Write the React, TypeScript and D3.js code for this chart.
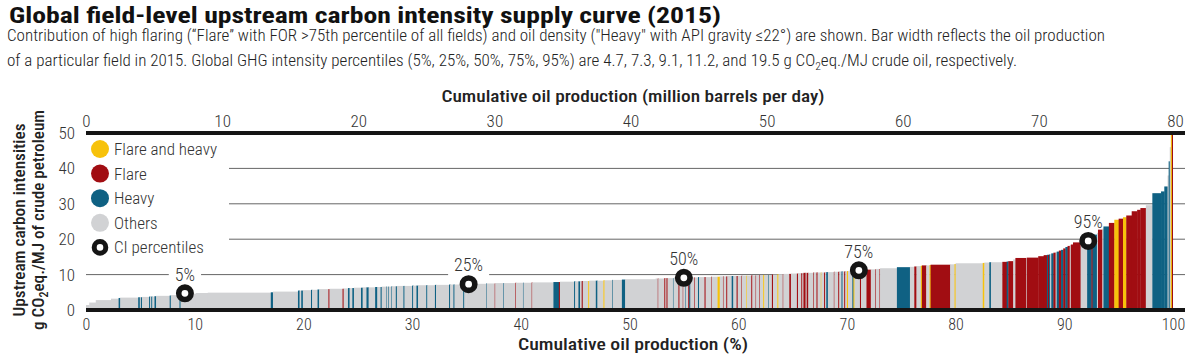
import React, { useEffect, useRef } from "react";
import * as d3 from "d3";

// [share of global production (%), upstream CI (g CO2eq./MJ), type]
// types: B = flare and heavy, F = flare, H = heavy, O = others
type Field = [number, number, string];

const fieldsLow: Field[] = [
  [0.3, 1.4, "O"], [0.6, 2.1, "O"], [1.4, 2.8, "O"], [0.7, 3.2, "O"], [0.15, 3.4, "H"],
  [1.65, 3.5, "O"], [0.15, 3.6, "H"], [0.1, 3.6, "O"], [0.1, 3.6, "H"], [0.65, 3.7, "O"],
  [0.1, 3.8, "H"], [0.1, 3.8, "O"], [0.1, 3.8, "H"], [0.2, 3.8, "O"], [0.15, 3.9, "H"],
  [1.25, 4.0, "O"], [0.1, 4.1, "H"], [0.8, 4.2, "O"], [0.1, 4.3, "H"], [1.4, 4.6, "O"],
  [1.1, 4.8, "O"], [5.8, 4.9, "O"], [0.2, 5.0, "H"], [2.3, 5.2, "O"], [0.15, 5.5, "H"],
  [0.15, 5.5, "O"], [0.15, 5.5, "H"], [0.75, 5.6, "O"], [0.1, 5.7, "H"], [0.5, 5.7, "O"],
  [0.15, 5.8, "H"], [0.85, 5.9, "O"], [0.1, 5.9, "F"], [1.2, 6.0, "O"], [0.1, 6.0, "F"],
  [0.4, 6.1, "O"], [0.15, 6.2, "H"], [0.25, 6.2, "O"], [0.15, 6.2, "H"], [0.65, 6.3, "O"],
  [0.15, 6.3, "H"], [0.35, 6.4, "O"], [0.2, 6.4, "H"], [0.6, 6.4, "O"], [0.2, 6.5, "H"],
  [0.3, 6.5, "O"], [0.1, 6.5, "H"], [0.4, 6.6, "O"], [0.05, 6.6, "H"], [0.15, 6.6, "O"],
  [0.05, 6.6, "H"], [0.25, 6.6, "O"], [0.05, 6.7, "H"], [0.35, 6.7, "O"], [0.1, 6.7, "H"],
  [0.6, 6.8, "O"], [0.1, 6.8, "H"], [0.7, 6.8, "O"], [0.1, 6.9, "H"], [0.3, 6.9, "O"],
  [0.15, 6.9, "H"], [0.75, 7.0, "O"], [0.1, 7.0, "H"], [0.7, 7.0, "O"], [0.1, 7.1, "H"],
  [1.2, 7.1, "O"], [0.1, 7.2, "H"], [0.3, 7.2, "O"], [0.1, 7.2, "H"], [0.8, 7.2, "O"],
  [0.1, 7.3, "H"], [0.2, 7.3, "O"],
];

const fieldsMid: Field[] = [
  [1.8, 7.4, "O"], [0.05, 7.5, "H"], [0.75, 7.5, "O"], [0.05, 7.5, "F"], [0.75, 7.6, "O"],
  [0.05, 7.6, "H"], [1.05, 7.6, "O"], [0.05, 7.7, "F"], [0.65, 7.7, "O"], [0.05, 7.7, "H"],
  [0.75, 7.7, "O"], [0.05, 7.8, "F"], [1.95, 7.8, "O"], [0.5, 7.9, "H"], [0.1, 7.9, "F"],
  [1.3, 8.0, "O"], [0.1, 8.1, "H"], [0.3, 8.1, "O"], [0.15, 8.1, "H"], [0.15, 8.1, "O"],
  [0.1, 8.2, "F"], [0.5, 8.2, "O"], [0.1, 8.2, "B"], [0.6, 8.3, "O"], [0.15, 8.3, "H"],
  [0.55, 8.3, "O"], [0.1, 8.4, "B"], [0.7, 8.4, "O"], [0.05, 8.5, "H"], [0.85, 8.5, "O"],
  [0.3, 8.6, "H"], [2.8, 8.7, "O"],
  [0.2, 8.9, "O"], [0.05, 8.9, "F"], [0.55, 8.9, "O"], [0.1, 9.0, "F"], [0.1, 9.0, "O"],
  [0.1, 9.0, "F"], [0.5, 9.0, "O"], [0.05, 9.0, "H"], [0.45, 9.1, "O"], [0.1, 9.1, "F"],
  [0.3, 9.1, "O"], [0.05, 9.1, "F"], [0.2, 9.1, "O"], [0.05, 9.1, "H"], [0.2, 9.1, "O"],
  [0.1, 9.2, "F"], [0.1, 9.2, "H"], [0.35, 9.2, "O"], [0.05, 9.2, "F"], [0.3, 9.2, "O"],
  [0.1, 9.3, "H"], [0.5, 9.3, "O"], [0.1, 9.3, "F"], [0.5, 9.3, "O"], [0.05, 9.4, "F"],
  [0.55, 9.4, "O"], [0.2, 9.4, "B"], [0.3, 9.5, "O"], [0.05, 9.5, "F"], [0.25, 9.5, "O"],
  [0.1, 9.5, "F"], [0.4, 9.6, "O"], [0.15, 9.6, "H"], [0.3, 9.6, "O"], [0.1, 9.6, "F"],
  [0.35, 9.6, "O"], [0.05, 9.7, "F"], [0.4, 9.7, "O"], [0.05, 9.7, "B"], [0.4, 9.7, "O"],
  [0.1, 9.8, "F"], [0.3, 9.8, "O"], [0.05, 9.8, "F"], [0.3, 9.9, "O"], [0.05, 9.9, "F"],
  [0.3, 9.9, "O"], [0.1, 9.9, "B"], [0.35, 9.9, "O"], [0.05, 9.9, "H"], [0.3, 9.9, "O"],
  [0.1, 10.0, "F"], [0.4, 10.0, "O"], [0.1, 10.1, "B"], [0.4, 10.1, "O"], [0.05, 10.1, "F"],
  [0.55, 10.2, "O"], [0.15, 10.2, "F"], [0.55, 10.3, "O"], [0.1, 10.3, "F"], [0.3, 10.4, "O"],
  [0.1, 10.4, "F"], [0.1, 10.4, "O"], [0.2, 10.5, "F"], [0.1, 10.5, "O"], [0.15, 10.5, "F"],
  [0.45, 10.5, "O"], [0.05, 10.6, "F"], [0.25, 10.6, "O"], [0.1, 10.6, "F"], [0.3, 10.6, "O"],
  [0.05, 10.6, "B"], [0.25, 10.6, "O"], [0.1, 10.6, "F"], [0.1, 10.6, "O"], [0.15, 10.7, "H"],
  [0.55, 10.7, "O"], [0.05, 10.8, "F"], [0.35, 10.8, "O"], [0.1, 10.8, "F"], [0.2, 10.9, "O"],
  [0.1, 10.9, "H"], [0.15, 10.9, "O"], [0.1, 10.9, "F"], [0.15, 10.9, "O"],
];

const fieldsHigh: Field[] = [
  [0.1, 11.0, "B"], [0.4, 11.0, "O"], [0.1, 11.0, "H"], [0.1, 11.1, "B"], [0.5, 11.1, "O"],
  [0.1, 11.2, "F"], [0.5, 11.3, "O"], [0.4, 11.4, "F"], [0.4, 11.5, "O"], [0.05, 11.5, "F"],
  [0.35, 11.6, "O"], [0.05, 11.6, "F"], [1.55, 11.8, "O"], [1.2, 12.1, "H"], [0.4, 12.2, "O"],
  [0.2, 12.3, "F"], [0.4, 12.4, "O"], [0.1, 12.5, "B"], [0.4, 12.6, "F"], [0.3, 12.6, "O"],
  [0.1, 12.7, "B"], [1.8, 12.8, "F"], [0.4, 12.9, "O"], [0.1, 13.0, "B"], [2.5, 13.2, "O"],
  [0.15, 13.3, "B"], [0.45, 13.4, "O"], [0.15, 13.5, "H"], [1.05, 13.5, "O"], [0.4, 13.6, "F"],
  [0.15, 13.7, "H"], [0.45, 13.8, "F"], [0.2, 14.3, "O"], [1.0, 14.7, "F"], [0.05, 14.7, "O"],
  [1.05, 14.8, "F"], [0.5, 15.2, "F"], [0.3, 15.5, "F"], [0.1, 15.6, "H"], [0.1, 15.6, "F"],
  [0.1, 15.7, "H"], [0.1, 15.8, "O"], [0.2, 16.0, "H"], [0.2, 16.2, "F"], [0.1, 16.3, "O"],
  [0.2, 16.5, "H"], [0.2, 16.8, "F"], [0.2, 17.0, "H"], [0.2, 17.4, "F"], [0.2, 17.8, "H"],
  [0.2, 18.1, "F"], [0.1, 18.3, "O"], [0.2, 18.5, "F"], [0.7, 19.1, "F"], [0.6, 19.4, "O"],
  [0.4, 20.6, "H"], [0.1, 20.9, "F"], [0.4, 21.3, "H"], [0.1, 21.8, "O"], [0.4, 22.7, "F"],
  [0.1, 23.0, "O"], [0.5, 23.6, "H"], [0.5, 24.6, "F"], [0.4, 25.5, "B"], [0.4, 25.8, "F"],
  [0.3, 26.2, "B"], [0.5, 26.7, "F"], [0.5, 27.9, "F"], [0.3, 28.3, "F"], [0.5, 28.8, "F"],
  [0.6, 29.6, "O"], [0.8, 33.0, "H"], [0.3, 33.5, "H"], [0.3, 34.9, "H"], [0.1, 38.0, "O"],
  [0.1, 42.0, "H"], [0.1, 46.0, "O"], [0.1, 50, "B"], [0.1, 50, "F"],
];

const typeKeys = ["B", "F", "H", "O"];
const typeLabels = ["Flare and heavy", "Flare", "Heavy", "Others"];
const typeColors = ["#f7c20b", "#a10d12", "#0f6183", "#d1d2d4"];

const pctLabels = ["5%", "25%", "50%", "75%", "95%"];
const pctCI = [4.7, 7.3, 9.1, 11.2, 19.5];
const pctCumShare = [9.1, 35.2, 55.0, 71.1, 92.2];

const shareTicks = [0, 10, 20, 30, 40, 50, 60, 70, 80, 90, 100];
const mbpdTicks = [0, 10, 20, 30, 40, 50, 60, 70, 80];
const ciTicks = [0, 10, 20, 30, 40, 50];
const gridTicks = [10, 20, 30, 40];

const FONT = "'Liberation Sans Narrow', 'Roboto Condensed', 'DejaVu Sans Condensed', Roboto, sans-serif";
const TEXT = "#333";

export default function App() {
  const ref = useRef<SVGSVGElement>(null);

  useEffect(() => {
    const svg = d3.select(ref.current);
    svg.selectAll("*").remove();

    const left = 86;
    const lineEnd = 1185;
    const x = d3.scaleLinear().domain([0, 100]).range([left, 1173]);
    const xTop = d3.scaleLinear().domain([0, 80]).range([left, 1175]);
    const y = d3.scaleLinear().domain([0, 50]).range([310, 133]).clamp(true);
    const color = d3.scaleOrdinal<string, string>().domain(typeKeys).range(typeColors);

    // title + subtitle
    svg.append("text").attr("x", 9).attr("y", 23)
      .attr("font-family", FONT).attr("font-weight", 700).attr("font-size", 22)
      .attr("fill", "#111").attr("textLength", 712).attr("lengthAdjust", "spacingAndGlyphs")
      .text("Global field-level upstream carbon intensity supply curve (2015)");

    svg.append("text").attr("x", 7).attr("y", 41)
      .attr("font-family", FONT).attr("font-size", 16).attr("font-weight", 300).attr("fill", "#222")
      .attr("textLength", 1098).attr("lengthAdjust", "spacingAndGlyphs")
      .text("Contribution of high flaring (\u201cFlare\u201d with FOR >75th percentile of all fields) and oil density (\"Heavy\" with API gravity \u226422\u00b0) are shown. Bar width reflects the oil production");

    const sub2 = svg.append("text").attr("x", 7).attr("y", 66)
      .attr("font-family", FONT).attr("font-size", 16).attr("font-weight", 300).attr("fill", "#222")
      .attr("textLength", 1010).attr("lengthAdjust", "spacingAndGlyphs");
    sub2.append("tspan").text("of a particular field in 2015. Global GHG intensity percentiles (5%, 25%, 50%, 75%, 95%) are 4.7, 7.3, 9.1, 11.2, and 19.5 g CO");
    sub2.append("tspan").attr("font-size", 11).attr("dy", 4).text("2");
    sub2.append("tspan").attr("dy", -4).text("eq./MJ crude oil, respectively.");

    // gridlines
    svg.append("g").selectAll("line").data(gridTicks).join("line")
      .attr("x1", left).attr("x2", lineEnd)
      .attr("y1", (d) => y(d)).attr("y2", (d) => y(d))
      .attr("stroke", "#666").attr("stroke-width", 1);

    // legend background hides gridlines
    svg.append("rect").attr("x", left).attr("y", 137).attr("width", 143).attr("height", 122).attr("fill", "#fff");

    // percentile label knockouts
    const pctG = svg.append("g");
    const labelY = (i: number) => y(pctCI[i]) - 19;
    const bgs = pctG.selectAll("rect").data(pctLabels).join("rect").attr("fill", "#fff");

    // bars
    const fields = [...fieldsLow, ...fieldsMid, ...fieldsHigh];
    let acc = 0;
    const bars = fields.map(([share, ci, type]) => {
      const x0 = acc;
      acc += share;
      return { x0, x1: acc, ci, type };
    });
    svg.append("g").selectAll("rect").data(bars).join("rect")
      .attr("x", (d) => x(d.x0))
      .attr("width", (d, i) => x(d.x1) - x(d.x0) + (i < bars.length - 1 ? 0.35 : 0))
      .attr("y", (d) => y(d.ci))
      .attr("height", (d) => y(0) - y(d.ci))
      .attr("fill", (d) => color(d.type));

    // axes lines
    svg.append("line").attr("x1", left).attr("x2", lineEnd).attr("y1", y(50)).attr("y2", y(50))
      .attr("stroke", "#151515").attr("stroke-width", 4);
    svg.append("line").attr("x1", left).attr("x2", lineEnd).attr("y1", y(0)).attr("y2", y(0))
      .attr("stroke", "#151515").attr("stroke-width", 4);

    const styleAxis = (size: number) => (g: any) => {
      g.select(".domain").remove();
      g.attr("font-family", FONT).attr("font-size", size).attr("color", TEXT);
      g.selectAll("text").attr("font-weight", 300);
    };

    svg.append("g").attr("transform", `translate(0,${y(50)})`)
      .call(d3.axisTop(xTop).tickValues(mbpdTicks).tickSize(0).tickPadding(6.5))
      .call(styleAxis(17));
    svg.append("g").attr("transform", `translate(0,${y(0)})`)
      .call(d3.axisBottom(x).tickValues(shareTicks).tickSize(0).tickPadding(8.5))
      .call(styleAxis(16));
    svg.append("g").attr("transform", `translate(${left},0)`)
      .call(d3.axisLeft(y).tickValues(ciTicks).tickSize(0).tickPadding(11))
      .call(styleAxis(17));

    // axis titles
    svg.append("text").attr("x", 633).attr("y", 102).attr("text-anchor", "middle")
      .attr("font-family", FONT).attr("font-size", 17).attr("font-weight", 500).attr("fill", "#222")
      .attr("textLength", 383).attr("lengthAdjust", "spacingAndGlyphs")
      .text("Cumulative oil production (million barrels per day)");
    svg.append("text").attr("x", 633).attr("y", 350).attr("text-anchor", "middle")
      .attr("font-family", FONT).attr("font-size", 16).attr("font-weight", 500).attr("fill", "#222")
      .attr("textLength", 230).attr("lengthAdjust", "spacingAndGlyphs")
      .text("Cumulative oil production (%)");
    svg.append("text").attr("transform", "translate(25,220) rotate(-90)").attr("text-anchor", "middle")
      .attr("font-family", FONT).attr("font-size", 17).attr("font-weight", 500).attr("fill", "#222")
      .attr("textLength", 193).attr("lengthAdjust", "spacingAndGlyphs")
      .text("Upstream carbon intensities");
    const yt2 = svg.append("text").attr("transform", "translate(44,220) rotate(-90)").attr("text-anchor", "middle")
      .attr("font-family", FONT).attr("font-size", 17).attr("font-weight", 500).attr("fill", "#222")
      .attr("textLength", 220).attr("lengthAdjust", "spacingAndGlyphs");
    yt2.append("tspan").text("g CO");
    yt2.append("tspan").attr("font-size", 12).attr("dy", 4).text("2");
    yt2.append("tspan").attr("dy", -4).text("eq./MJ of crude petroleum");

    // percentile markers
    svg.append("g").selectAll("circle").data(pctCI).join("circle")
      .attr("cx", (d, i) => x(pctCumShare[i])).attr("cy", (d) => y(d))
      .attr("r", 6.2).attr("fill", "#fff").attr("stroke", "#151515").attr("stroke-width", 5.6);

    const labels = svg.append("g").selectAll("text").data(pctLabels).join("text")
      .attr("x", (d, i) => x(pctCumShare[i])).attr("y", (d, i) => labelY(i))
      .attr("dy", "0.35em").attr("text-anchor", "middle")
      .attr("font-family", FONT).attr("font-size", 18).attr("font-weight", 300).attr("fill", TEXT)
      .text((d) => d);

    const widths = labels.nodes().map((n) => (n as SVGTextElement).getComputedTextLength());
    bgs.attr("x", (d, i) => x(pctCumShare[i]) - widths[i] / 2 - 6)
      .attr("width", (d, i) => widths[i] + 12)
      .attr("y", (d, i) => labelY(i) - 11).attr("height", 22);

    // legend
    const legendItems = [...typeLabels.map((l, i) => ({ label: l, key: typeKeys[i] })), { label: "CI percentiles", key: "CI" }];
    const lg = svg.append("g").selectAll("g").data(legendItems).join("g")
      .attr("transform", (d, i) => `translate(100,${149 + i * 24.6})`);
    lg.append("circle")
      .attr("r", (d) => (d.key === "CI" ? 5.8 : 9))
      .attr("fill", (d) => (d.key === "CI" ? "#fff" : color(d.key)))
      .attr("stroke", (d) => (d.key === "CI" ? "#151515" : "none"))
      .attr("stroke-width", 5);
    lg.append("text").attr("x", 14).attr("dy", "0.35em")
      .attr("font-family", FONT).attr("font-size", 17).attr("font-weight", 300).attr("fill", TEXT)
      .text((d) => d.label);
  }, []);

  return (
    <svg
      ref={ref}
      width={1200}
      height={362}
      style={{ position: "absolute", left: 0, top: 0, background: "#fff" }}
    />
  );
}
